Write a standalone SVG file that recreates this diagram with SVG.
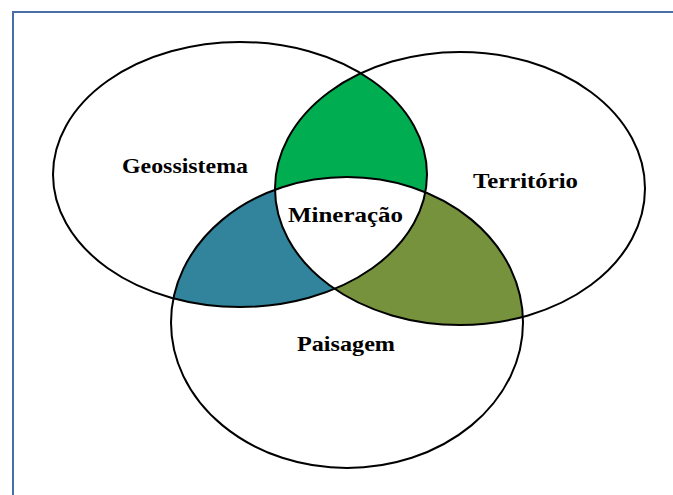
<svg xmlns="http://www.w3.org/2000/svg" width="673" height="495" viewBox="0 0 673 495">
<style>
.outline{fill:none;stroke:#000;stroke-width:2}
.lbl{font-family:"Liberation Serif","Times New Roman",serif;font-weight:bold;font-size:21px;fill:#000}
</style>
<defs>
<ellipse id="e1" cx="240" cy="174.5" rx="187" ry="132.5"/>
<ellipse id="e2" cx="460" cy="188.5" rx="185" ry="136.5"/>
<ellipse id="e3" cx="347" cy="322.5" rx="176" ry="145.5"/>
<clipPath id="c1"><use href="#e1"/></clipPath>
<clipPath id="c2"><use href="#e2"/></clipPath>
<clipPath id="c3"><use href="#e3"/></clipPath>
</defs>
<rect width="673" height="495" fill="#fff"/>
<path d="M13 495 V12 H673" fill="none" stroke="#4a6ea8" stroke-width="2"/>
<g id="regions">
<g clip-path="url(#c2)"><use href="#e1" fill="#00ad50"/></g>
<g clip-path="url(#c3)"><use href="#e1" fill="#31849b"/></g>
<g clip-path="url(#c3)"><use href="#e2" fill="#76923c"/></g>
<g clip-path="url(#c3)"><g clip-path="url(#c2)"><use href="#e1" fill="#fff"/></g></g>
</g>
<g id="geossistema">
<use href="#e1" class="outline"/>
<text class="lbl" x="122" y="173" textLength="126" lengthAdjust="spacingAndGlyphs">Geossistema</text>
</g>
<g id="territorio">
<use href="#e2" class="outline"/>
<text class="lbl" x="473" y="188" textLength="105" lengthAdjust="spacingAndGlyphs">Território</text>
</g>
<g id="paisagem">
<use href="#e3" class="outline"/>
<text class="lbl" x="297" y="351" textLength="98" lengthAdjust="spacingAndGlyphs">Paisagem</text>
</g>
<g id="mineracao">
<text class="lbl" x="288" y="222" textLength="115" lengthAdjust="spacingAndGlyphs">Mineração</text>
</g>
<g id="connectors"></g>
</svg>
